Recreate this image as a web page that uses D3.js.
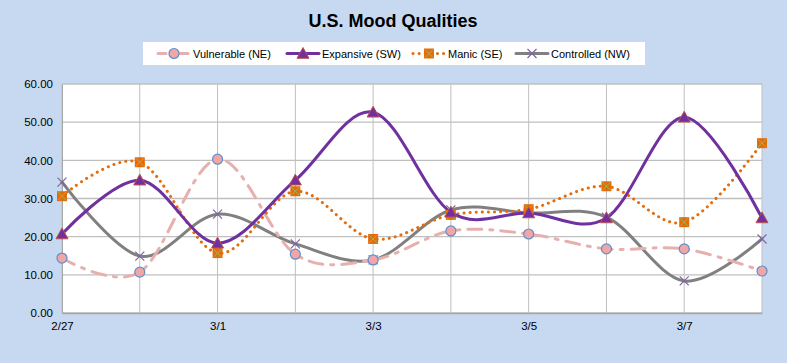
<!DOCTYPE html>
<html><head><meta charset="utf-8">
<script src="https://cdn.jsdelivr.net/npm/d3@7"></script>
<style>html,body{margin:0;padding:0;background:#C6D9F1;}svg{display:block;}</style>
</head><body>
<script>
const categories = ["2/27","2/28","3/1","3/2","3/3","3/4","3/5","3/6","3/7","3/8"];
const tickLabels = ["2/27","3/1","3/3","3/5","3/7"];
const yTicks = [0,10,20,30,40,50,60];
const vulnerable = [14.4,10.7,40.3,15.4,13.9,21.5,20.7,16.8,16.8,11.0];
const expansive  = [20.7,34.8,18.3,34.8,52.6,26.4,26.2,24.9,51.3,24.9];
const manic      = [30.6,39.5,15.7,31.9,19.4,25.7,27.2,33.2,23.8,44.5];
const controlled = [34.3,14.9,25.9,18.1,13.9,27.0,26.2,25.1,8.4,19.4];
const seriesNames = ["Vulnerable (NE)","Expansive (SW)","Manic (SE)","Controlled (NW)"];

const W=787,H=363, L=62,R=762,T=84,B=313;
const svg=d3.select("body").append("svg").attr("width",W).attr("height",H);
svg.append("rect").attr("width",W).attr("height",H).attr("fill","#C6D9F1");
svg.append("text").attr("x",393).attr("y",27).attr("text-anchor","middle")
  .attr("font-family","Liberation Sans, Arial, sans-serif").attr("font-weight","bold")
  .attr("font-size",18).attr("fill","#000").text("U.S.  Mood Qualities");

const x=d3.scalePoint().domain(categories).range([L,R]);
const y=d3.scaleLinear().domain([0,60]).range([B,T]);
svg.append("rect").attr("x",L).attr("y",T).attr("width",R-L).attr("height",B-T).attr("fill","#fff");

svg.append("g").selectAll("line").data(yTicks).join("line")
  .attr("x1",L).attr("x2",R).attr("y1",d=>y(d)).attr("y2",d=>y(d))
  .attr("stroke","#BFBFBF").attr("stroke-width",1.3);
svg.append("g").selectAll("line").data(categories).join("line")
  .attr("x1",d=>x(d)).attr("x2",d=>x(d)).attr("y1",T).attr("y2",B)
  .attr("stroke","#BFBFBF").attr("stroke-width",1);

const yAxis=d3.axisLeft(y).tickValues(yTicks).tickFormat(d3.format(".2f")).tickSize(0).tickPadding(9);
const gy=svg.append("g").attr("transform",`translate(${L},0)`).call(yAxis);
gy.select(".domain").attr("stroke","#A6A6A6");
gy.selectAll("text").attr("font-family","Liberation Sans, Arial, sans-serif").attr("font-size",11.5).attr("fill","#000");
const xAxis=d3.axisBottom(x).tickValues(tickLabels).tickSize(0).tickPadding(9);
const gx=svg.append("g").attr("transform",`translate(0,${B})`).call(xAxis);
gx.select(".domain").attr("stroke","#A6A6A6").attr("stroke-width",1.3);
gx.selectAll("text").attr("font-family","Liberation Sans Narrow, Liberation Sans, Arial, sans-serif").attr("font-size",11.5).attr("fill","#000");

const line=d3.line().x((d,i)=>x(categories[i])).y(d=>y(d)).curve(d3.curveCardinal.tension(0));

const styles=[
 {data:vulnerable,color:"#E6B0AE",dash:"14,8,3,8",cap:"round"},
 {data:expansive,color:"#7030A0",dash:null,cap:"round"},
 {data:manic,color:"#E46C0A",dash:"0.1,6",cap:"round"},
 {data:controlled,color:"#808080",dash:null,cap:"round"}
];
const order=[3,0,2,1];
order.forEach(k=>{
  const s=styles[k];
  svg.append("path").datum(s.data).attr("d",line).attr("fill","none")
    .attr("stroke",s.color).attr("stroke-width",3)
    .attr("stroke-dasharray",s.dash).attr("stroke-linecap",s.cap);
});

function drawMarker(g,k,cx,cy){
  if(k===0){
    g.append("circle").attr("cx",cx).attr("cy",cy).attr("r",5).attr("fill","#F2A5A5").attr("stroke","#5B8FD0").attr("stroke-width",1.2);
  } else if(k===1){
    const sz=6;
    g.append("path").attr("d",`M${cx},${cy-sz}L${cx+sz},${cy+sz*0.8}L${cx-sz},${cy+sz*0.8}Z`)
      .attr("fill","#7030A0").attr("stroke","#C0504D").attr("stroke-width",1);
  } else if(k===2){
    const h=5;
    g.append("rect").attr("x",cx-h).attr("y",cy-h).attr("width",2*h).attr("height",2*h).attr("fill","#E46C0A");
    g.append("path").attr("d",`M${cx-h+1},${cy-h+1}L${cx+h-1},${cy+h-1}M${cx+h-1},${cy-h+1}L${cx-h+1},${cy+h-1}`).attr("stroke","#9BBB59").attr("stroke-width",0.9);
  } else {
    const h=4.5;
    g.append("path").attr("d",`M${cx-h},${cy-h}L${cx+h},${cy+h}M${cx+h},${cy-h}L${cx-h},${cy+h}`).attr("stroke","#8064A2").attr("stroke-width",1.2);
  }
}
order.forEach(k=>{
  const g=svg.append("g");
  styles[k].data.forEach((v,i)=>drawMarker(g,k,x(categories[i]),y(v)));
});

svg.append("rect").attr("x",143).attr("y",42).attr("width",502).attr("height",23).attr("fill","#fff");
const legX=[158,287,413,516];
const leg=svg.append("g");
seriesNames.forEach((n,k)=>{
  const s=styles[k];
  const x0=legX[k], yy=53.5;
  leg.append("line").attr("x1",x0).attr("x2",x0+32).attr("y1",yy).attr("y2",yy)
    .attr("stroke",s.color).attr("stroke-width",3).attr("stroke-dasharray",k===0?"8,6,2,6":s.dash).attr("stroke-linecap",s.cap);
  drawMarker(leg,k,x0+16,yy);
  leg.append("text").attr("x",x0+35).attr("y",yy+4).attr("font-family","Liberation Sans, Arial, sans-serif")
    .attr("font-size",11).attr("fill","#000").text(n);
});
</script>
</body></html>
